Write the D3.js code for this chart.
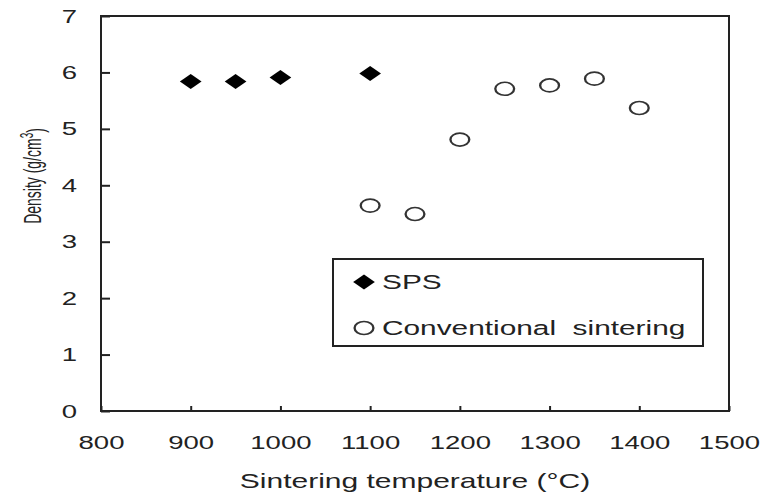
<!DOCTYPE html>
<html>
<head>
<meta charset="utf-8">
<script src="https://cdn.jsdelivr.net/npm/d3@7"></script>
<style>
  body { margin: 0; background: #fff; }
  svg { display: block; font-family: "Liberation Sans", Arial, sans-serif; }
</style>
</head>
<body>
<div id="chart"></div>
<script>
// data
var spsTemp = [900, 950, 1000, 1100];
var spsDensity = [5.84, 5.84, 5.91, 5.98];
var convTemp = [1100, 1150, 1200, 1250, 1300, 1350, 1400];
var convDensity = [3.64, 3.49, 4.81, 5.71, 5.77, 5.89, 5.37];
var xTicks = [800, 900, 1000, 1100, 1200, 1300, 1400, 1500];
var yTicks = [0, 1, 2, 3, 4, 5, 6, 7];
var legendLabels = ["SPS", "Conventional  sintering"];

var W = 766, H = 500;
var plot = { left: 101, right: 729, top: 16, bottom: 411 };
var sx = 1.45; // the picture is stretched sideways
var ink = "#222";

var svg = d3.select("#chart").append("svg")
    .attr("width", W)
    .attr("height", H);

var x = d3.scaleLinear().domain([800, 1500]).range([plot.left, plot.right]);
var y = d3.scaleLinear().domain([0, 7]).range([plot.bottom, plot.top]);

// frame
svg.append("rect")
    .attr("x", plot.left).attr("y", plot.top)
    .attr("width", plot.right - plot.left).attr("height", plot.bottom - plot.top)
    .attr("fill", "none").attr("stroke", ink).attr("stroke-width", 2);

// x axis, ticks pointing in
var gx = svg.append("g")
    .attr("transform", `translate(0, ${plot.bottom})`)
    .call(d3.axisBottom(x).tickValues(xTicks).tickSize(-5).tickPadding(24).tickFormat(d3.format("d")));
gx.select(".domain").remove();
gx.selectAll("line").attr("stroke", ink).attr("stroke-width", 2);
gx.selectAll("text")
    .attr("y", 0).attr("dy", null)
    .attr("transform", "translate(0, 38) scale(" + sx + ",1)")
    .style("font-size", "19px").attr("fill", ink);

// y axis
var gy = svg.append("g")
    .attr("transform", `translate(${plot.left}, 0)`)
    .call(d3.axisLeft(y).tickValues(yTicks).tickSize(-9).tickPadding(24).tickFormat(d3.format("d")));
gy.select(".domain").remove();
gy.selectAll("line").attr("stroke", ink).attr("stroke-width", 2);
gy.selectAll("text")
    .attr("x", 0)
    .attr("transform", "translate(-24, 0) scale(" + sx + ",1)")
    .style("font-size", "19px").attr("fill", ink);

// axis titles
svg.append("text")
    .attr("transform", "translate(415, 488) scale(1.5,1)")
    .attr("text-anchor", "middle")
    .style("font-size", "20px").attr("fill", ink)
    .text("Sintering temperature (°C)");

var yt = svg.append("text")
    .attr("transform", "translate(41, 176) rotate(-90) scale(1,1.75)")
    .attr("text-anchor", "middle")
    .style("font-size", "14px").attr("fill", ink);
yt.append("tspan").text("Density (g/cm");
yt.append("tspan").attr("dy", "-0.45em").style("font-size", "10px").text("3");
yt.append("tspan").attr("dy", "0.45em").text(")");

// markers
var diamond = d3.symbol().type(d3.symbolSquare).size(112);

function drawDiamond(g, cx, cy) {
  g.append("path")
      .attr("d", diamond())
      .attr("transform", `translate(${cx}, ${cy}) scale(${sx},1) rotate(45)`)
      .attr("fill", "#000");
}

function drawRing(g, cx, cy) {
  g.append("circle")
      .attr("r", 6.5)
      .attr("transform", `translate(${cx}, ${cy}) scale(${sx},1)`)
      .attr("fill", "#fff")
      .attr("stroke", "#333")
      .attr("stroke-width", 1.6);
}

var pts = svg.append("g");
spsTemp.forEach(function (t, i) { drawDiamond(pts, x(t), y(spsDensity[i])); });
convTemp.forEach(function (t, i) { drawRing(pts, x(t), y(convDensity[i])); });

// legend
var lg = svg.append("g");
lg.append("rect")
    .attr("x", 333).attr("y", 259)
    .attr("width", 370).attr("height", 87)
    .attr("fill", "#fff").attr("stroke", ink).attr("stroke-width", 2);

drawDiamond(lg, 364, 282);
drawRing(lg, 364, 328);

legendLabels.forEach(function (label, i) {
  lg.append("text")
      .attr("transform", `translate(382, ${289 + i * 46}) scale(1.53,1)`)
      .attr("xml:space", "preserve")
      .style("white-space", "pre")
      .style("font-size", "19.5px").attr("fill", ink)
      .text(label);
});
</script>
</body>
</html>
